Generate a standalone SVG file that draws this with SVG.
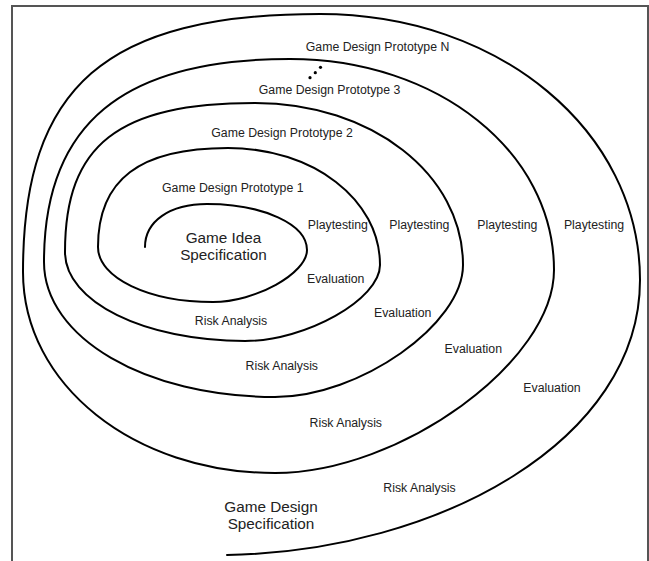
<svg xmlns="http://www.w3.org/2000/svg" width="649" height="561" viewBox="0 0 649 561">
<style>
.frame{fill:none;stroke:#555;stroke-width:2}
.spiral{fill:none;stroke:#000;stroke-width:2;stroke-linecap:round;stroke-linejoin:round}
.dot{fill:#000}
text{font-family:"Liberation Sans",Arial,sans-serif;fill:#222;text-anchor:middle}
.s{font-size:12.3px}
.b{font-size:15.3px}
</style>
<rect width="649" height="561" fill="#fff"/>
<rect class="frame" x="12" y="6" width="636" height="600"/>
<g id="connectors">
<path class="spiral" d="M145,247 C145,221.2 169.8,204 207,204 C263,204 307,224.2 307,250 C307,273.4 255.3,302 213,302 C148.6,302 98,277.8 98,247 C98,179.7 139.6,148 228,148 C313.1,148 380,199.5 380,265 C380,299.2 305.8,341 245,341 C144.2,341 65,301.8 65,252 C65,144.7 118.2,103 255,103 C371.5,103 463,174.3 463,265 C463,324.4 359.6,397 275,397 C145.6,397 44,337.6 44,262 C44,124 122.7,59 290,59 C437.8,59 554,151.8 554,270 C554,361.4 400.6,473 275,473 C133.9,473 23,384.6 23,272 C23,86.2 106.2,14 320,14 C499.2,14 640,131 640,280 C640,440 440,551 227,555"/>
<circle class="dot" cx="310" cy="77.7" r="1.6"/>
<circle class="dot" cx="315.3" cy="72.7" r="1.6"/>
<circle class="dot" cx="320.5" cy="67.3" r="1.6"/>
</g>
<g id="game-idea-spec"><text class="b" x="223.5" y="243">Game Idea</text><text class="b" x="223.5" y="259.5">Specification</text></g>
<g id="prototype-1"><text class="s" x="232.8" y="192.3">Game Design Prototype 1</text></g>
<g id="prototype-2"><text class="s" x="282" y="137.3">Game Design Prototype 2</text></g>
<g id="prototype-3"><text class="s" x="329.5" y="94.3">Game Design Prototype 3</text></g>
<g id="prototype-n"><text class="s" x="377.5" y="51">Game Design Prototype N</text></g>
<g id="playtesting">
<text class="s" x="337.8" y="228.5">Playtesting</text>
<text class="s" x="419.3" y="229">Playtesting</text>
<text class="s" x="507.3" y="229">Playtesting</text>
<text class="s" x="594" y="229">Playtesting</text>
</g>
<g id="evaluation">
<text class="s" x="335.7" y="283.3">Evaluation</text>
<text class="s" x="402.7" y="316.5">Evaluation</text>
<text class="s" x="473.3" y="352.7">Evaluation</text>
<text class="s" x="552" y="391.7">Evaluation</text>
</g>
<g id="risk-analysis">
<text class="s" x="231" y="325">Risk Analysis</text>
<text class="s" x="281.8" y="370">Risk Analysis</text>
<text class="s" x="345.8" y="426.7">Risk Analysis</text>
<text class="s" x="419.5" y="492.3">Risk Analysis</text>
</g>
<g id="game-design-spec"><text class="b" x="271" y="512">Game Design</text><text class="b" x="271" y="528.5">Specification</text></g>
</svg>
